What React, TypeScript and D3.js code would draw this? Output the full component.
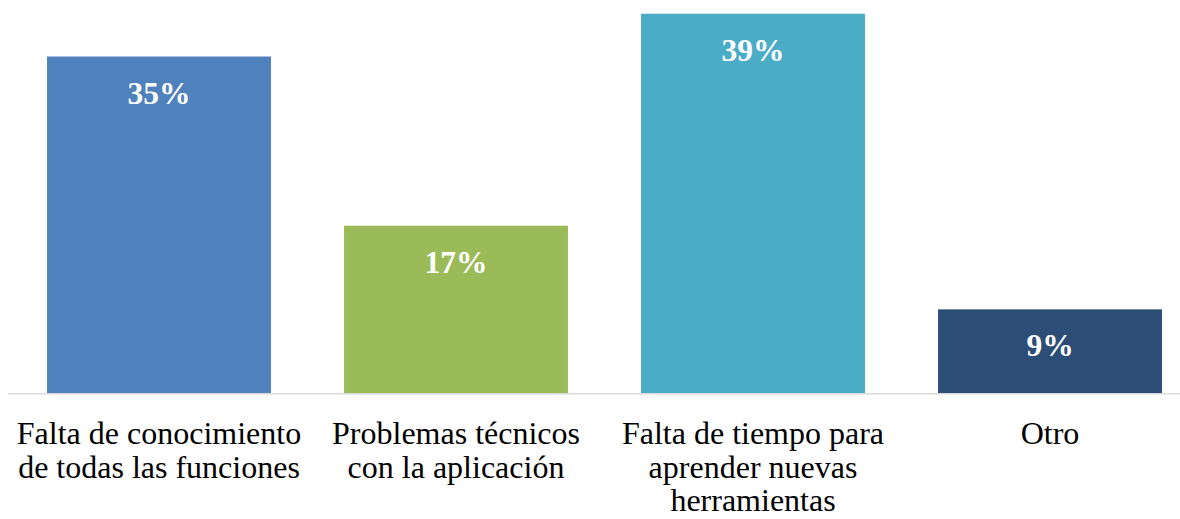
import { useEffect, useRef } from 'react'
import * as d3 from 'd3'

// Categories (line breaks as they wrap in the original chart)
const CATEGORIES = [
  'Falta de conocimiento\nde todas las funciones',
  'Problemas técnicos\ncon la aplicación',
  'Falta de tiempo para\naprender nuevas\nherramientas',
  'Otro',
]
const VALUES = [0.346, 0.172, 0.39, 0.086]
const COLORS = ['#4F81BD', '#9BBB59', '#4BACC6', '#2C4D75']

const WIDTH = 1180
const HEIGHT = 519
const BASELINE = 393
const FONT = '"Liberation Serif", "Times New Roman", serif'

export default function App() {
  const svgRef = useRef<SVGSVGElement | null>(null)

  useEffect(() => {
    if (!svgRef.current) return
    const svg = d3.select(svgRef.current)
    svg.selectAll('*').remove()

    // ── Scales ───────────────────────────────────────────────────────────────
    const x = d3.scaleBand<number>()
      .domain(d3.range(CATEGORIES.length))
      .range([10.5, 1198.5])
      .paddingInner(0.246)
      .paddingOuter(0.123)

    const y = d3.scaleLinear().domain([0, 0.4]).range([BASELINE, 4])
    const pct = d3.format('.0%')

    // ── Bars ─────────────────────────────────────────────────────────────────
    svg.append('g')
      .selectAll('rect')
      .data(VALUES)
      .join('rect')
      .attr('x', (_, i) => x(i)!)
      .attr('width', x.bandwidth())
      .attr('y', (d) => y(d))
      .attr('height', (d) => y(0) - y(d))
      .attr('fill', (_, i) => COLORS[i])

    // ── Axis line ────────────────────────────────────────────────────────────
    svg.append('line')
      .attr('x1', 8).attr('x2', WIDTH)
      .attr('y1', y(0) + 0.75).attr('y2', y(0) + 0.75)
      .attr('stroke', '#d9d9d9').attr('stroke-width', 1.5)

    // ── Value labels ─────────────────────────────────────────────────────────
    svg.append('g')
      .selectAll('text')
      .data(VALUES)
      .join('text')
      .attr('x', (_, i) => x(i)! + x.bandwidth() / 2)
      .attr('y', (d) => y(d) + 47)
      .attr('text-anchor', 'middle')
      .attr('font-family', FONT)
      .attr('font-weight', 'bold')
      .attr('font-size', 31.5)
      .attr('fill', '#ffffff')
      .text((d) => pct(d))

    // ── Category labels ──────────────────────────────────────────────────────
    const cat = svg.append('g')
      .selectAll('text')
      .data(CATEGORIES)
      .join('text')
      .attr('x', (_, i) => x(i)! + x.bandwidth() / 2)
      .attr('y', 444)
      .attr('text-anchor', 'middle')
      .attr('font-family', FONT)
      .attr('font-size', 32)
      .attr('fill', '#000000')

    cat.each(function (d) {
      const t = d3.select(this)
      const cx = t.attr('x')
      d.split('\n').forEach((line, j) => {
        t.append('tspan')
          .attr('x', cx)
          .attr('dy', j === 0 ? 0 : 33.5)
          .text(line)
      })
    })
  }, [])

  return (
    <svg
      ref={svgRef}
      width={WIDTH}
      height={HEIGHT}
      style={{ position: 'absolute', left: 0, top: 0, display: 'block', background: '#ffffff' }}
    />
  )
}
